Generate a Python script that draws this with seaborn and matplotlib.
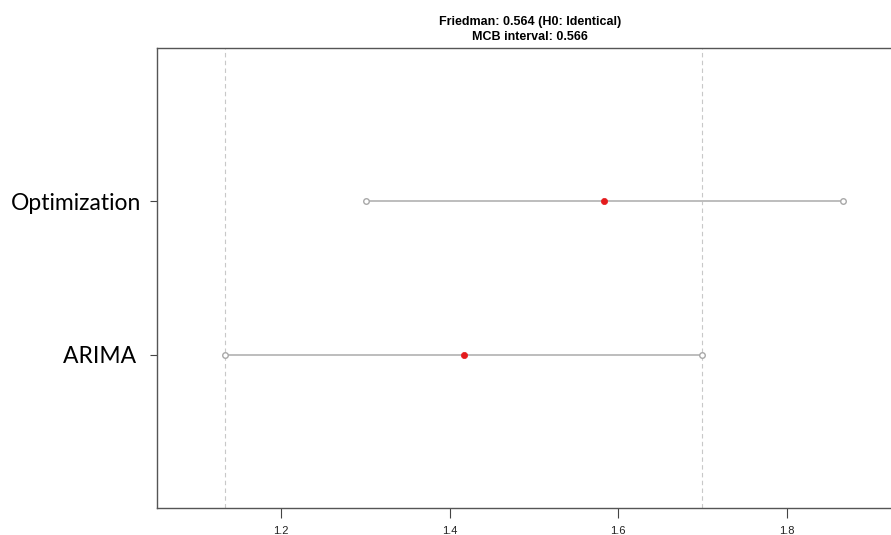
import matplotlib
matplotlib.use("Agg")
import matplotlib.pyplot as plt
import seaborn as sns
import pandas as pd

# data
methods = ["ARIMA", "Optimization"]
mean_rank = [1.4165, 1.5835]
mcb_interval = 0.566
friedman_p = 0.564

df = pd.DataFrame({"method": methods, "rank": mean_rank, "pos": [1, 2]})
df["low"] = df["rank"] - mcb_interval / 2
df["high"] = df["rank"] + mcb_interval / 2

sns.set_style("white")
plt.rcParams["font.family"] = ["Liberation Sans", "DejaVu Sans"]
plt.rcParams["text.color"] = "black"
plt.rcParams["xtick.labelcolor"] = "#222222"
plt.rcParams["ytick.labelcolor"] = "black"

fig = plt.figure(figsize=(8.91, 5.35), dpi=100)
ax = fig.add_axes([157 / 891, 27 / 535, 746 / 891, 460 / 535])

# dashed band of the best method
best = df.loc[df["rank"].idxmin()]
for v in (best["low"], best["high"]):
    ax.axvline(v, color="#c8c8c8", lw=0.8, ls=(0, (4, 3)), zorder=1)

ax.hlines(df["pos"], df["low"], df["high"], color="#bdbdbd", lw=1.4, zorder=2)
ends = pd.concat([df[["pos", "low"]].rename(columns={"low": "x"}),
                  df[["pos", "high"]].rename(columns={"high": "x"})])
sns.scatterplot(data=ends, x="x", y="pos", ax=ax, s=16, facecolor="white",
                edgecolor="#a8a8a8", linewidth=1.0, zorder=3)
sns.scatterplot(data=df, x="rank", y="pos", ax=ax, s=20, color="#e41a1c",
                edgecolor="#e41a1c", linewidth=0.5, zorder=4)

ax.set_xlim(1.0524, 1.938)
ax.set_ylim(0, 3)
ax.set_xticks([1.2, 1.4, 1.6, 1.8])
ax.set_xticklabels(["1.2", "1.4", "1.6", "1.8"], fontsize=8)
ax.set_yticks(df["pos"])
ax.set_yticklabels(["ARIMA ", "Optimization"], fontsize=16.5, family=["Lato", "DejaVu Sans"])
ax.tick_params(axis="x", direction="out", length=7, width=0.8, color="#444444", pad=6, bottom=True)
ax.tick_params(axis="y", direction="out", length=5, width=0.8, color="#444444", pad=6, left=True)
ax.set_xlabel("")
ax.set_ylabel("")
for s in ax.spines.values():
    s.set_color("#555555")
    s.set_linewidth(1.0)

ax.set_title("Friedman: %.3f (H0: Identical)\nMCB interval: %.3f" % (friedman_p, mcb_interval),
             fontsize=9, fontweight="bold", pad=6, linespacing=1.25)

fig.savefig("out.png", dpi=100)
